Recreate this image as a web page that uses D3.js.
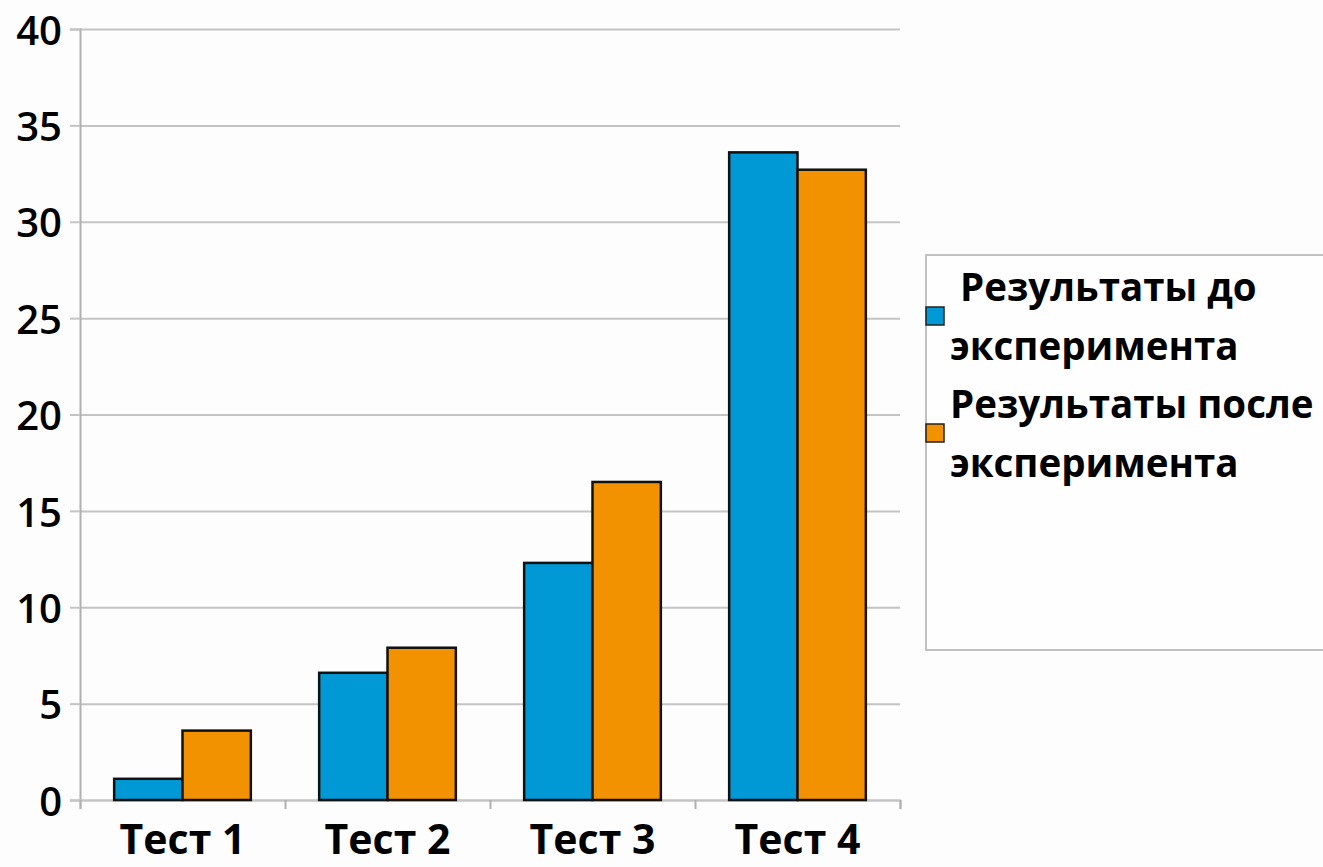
<!DOCTYPE html>
<html>
<head>
<meta charset="utf-8">
<script src="https://cdn.jsdelivr.net/npm/d3@7"></script>
<style>
  body { margin: 0; background: #fdfdfd; overflow: hidden; }
  text { font-family: "Open Sans", sans-serif; fill: #000; }
  .grid line { stroke: #c4c4c4; stroke-width: 2; }
  .grid path { display: none; }
</style>
</head>
<body>
<svg id="chart"></svg>
<script>
// dados do grafico
var categorias = ["Тест 1", "Тест 2", "Тест 3", "Тест 4"]
var series = ["Результаты до эксперимента", "Результаты после эксперимента"]
var antes = [1.1, 6.6, 12.3, 33.6]
var depois = [3.6, 7.9, 16.5, 32.7]
var yTicks = [0, 5, 10, 15, 20, 25, 30, 35, 40]
var legendaLinhas = [[" Результаты до", "эксперимента"], ["Результаты после", "эксперимента"]]
var cores = ["#0099d5", "#f39200"]

var W = 1323, H = 867
var margin = {top: 29, right: 423, bottom: 67, left: 80},
    width = W - margin.left - margin.right,
    height = H - margin.top - margin.bottom

const svg = d3.select("#chart")
    .attr("width", W)
    .attr("height", H)

const chart = svg.append("g")
    .attr("transform", "translate(" + margin.left + "," + margin.top + ")")

const x = d3.scaleBand()
    .range([0, width])
    .domain(categorias)
    .paddingInner(1 / 3)
    .paddingOuter(1 / 6)

const xSub = d3.scaleBand()
    .range([0, x.bandwidth()])
    .domain([0, 1])

const y = d3.scaleLinear()
    .range([height, 0])
    .domain([0, 40])

/*grid*/
chart.append('g')
    .attr('class', 'grid')
    .call(d3.axisLeft(y)
        .tickValues(yTicks)
        .tickSize(-width)
        .tickFormat('')
    )

/*y axis*/
const yAxis = chart.append('g')
    .call(d3.axisLeft(y)
        .tickValues(yTicks)
        .tickSize(10)
        .tickPadding(8)
    )
yAxis.select('.domain').attr('stroke', '#b0b0b0').attr('stroke-width', 2)
yAxis.selectAll('.tick line').attr('stroke', '#c4c4c4').attr('stroke-width', 2)
yAxis.selectAll('text')
    .style('font-size', '40px')
    .style('font-weight', '600')
    .attr('dy', '0.38em')

/*x axis - ticks between the categories*/
const xEdges = d3.scaleLinear().domain([0, categorias.length]).range([0, width])
chart.append('g')
    .attr('transform', `translate(0, ${height})`)
    .call(d3.axisBottom(xEdges)
        .ticks(categorias.length)
        .tickSize(9)
        .tickFormat('')
    )
    .call(g => g.select('.domain').attr('stroke', '#c4c4c4').attr('stroke-width', 2))
    .call(g => g.selectAll('.tick line').attr('stroke', '#b0b0b0').attr('stroke-width', 2))

/*txt x axis*/
chart.append('g')
    .attr('transform', `translate(0, ${height})`)
    .call(d3.axisBottom(x).tickSize(0).tickPadding(0))
    .call(g => g.select('.domain').remove())
    .selectAll('text')
        .attr('dy', null)
        .attr('y', 54)
        .style('font-size', '41px')
        .style('font-weight', 'bold')

// barras
const valores = [antes, depois]
const grupos = chart.selectAll('.grupo')
    .data(categorias)
    .enter()
    .append('g')
    .attr('transform', (c) => `translate(${x(c)},0)`)

grupos.selectAll('rect')
    .data((c, i) => valores.map((v, s) => ({s: s, value: v[i]})))
    .enter()
    .append('rect')
        .attr('x', (d) => xSub(d.s))
        .attr('width', xSub.bandwidth())
        .attr('y', (d) => y(d.value))
        .attr('height', (d) => height - y(d.value))
        .attr('fill', (d) => cores[d.s])
        .attr('stroke', '#111')
        .attr('stroke-width', 2.5)

// legenda
const leg = svg.append('g')
leg.append('rect')
    .attr('x', 926)
    .attr('y', 255)
    .attr('width', 420)
    .attr('height', 395)
    .attr('fill', '#fefefe')
    .attr('stroke', '#c0c0c0')
    .attr('stroke-width', 2)

const itens = leg.selectAll('.item')
    .data(series)
    .enter()
    .append('g')
    .attr('transform', (d, i) => `translate(926, ${255 + i * 117})`)

itens.append('rect')
    .attr('x', 0)
    .attr('y', 52)
    .attr('width', 18)
    .attr('height', 18)
    .attr('fill', (d, i) => cores[i])
    .attr('stroke', '#222')
    .attr('stroke-width', 1.5)

itens.each(function (d, i) {
    d3.select(this).selectAll('text')
        .data(legendaLinhas[i])
        .enter()
        .append('text')
            .attr('x', 24)
            .attr('y', (t, j) => 46 + j * 59)
            .attr('xml:space', 'preserve')
            .style('white-space', 'pre')
            .style('font-size', '38.5px')
            .style('font-weight', 'bold')
            .text((t) => t)
})
</script>
</body>
</html>
